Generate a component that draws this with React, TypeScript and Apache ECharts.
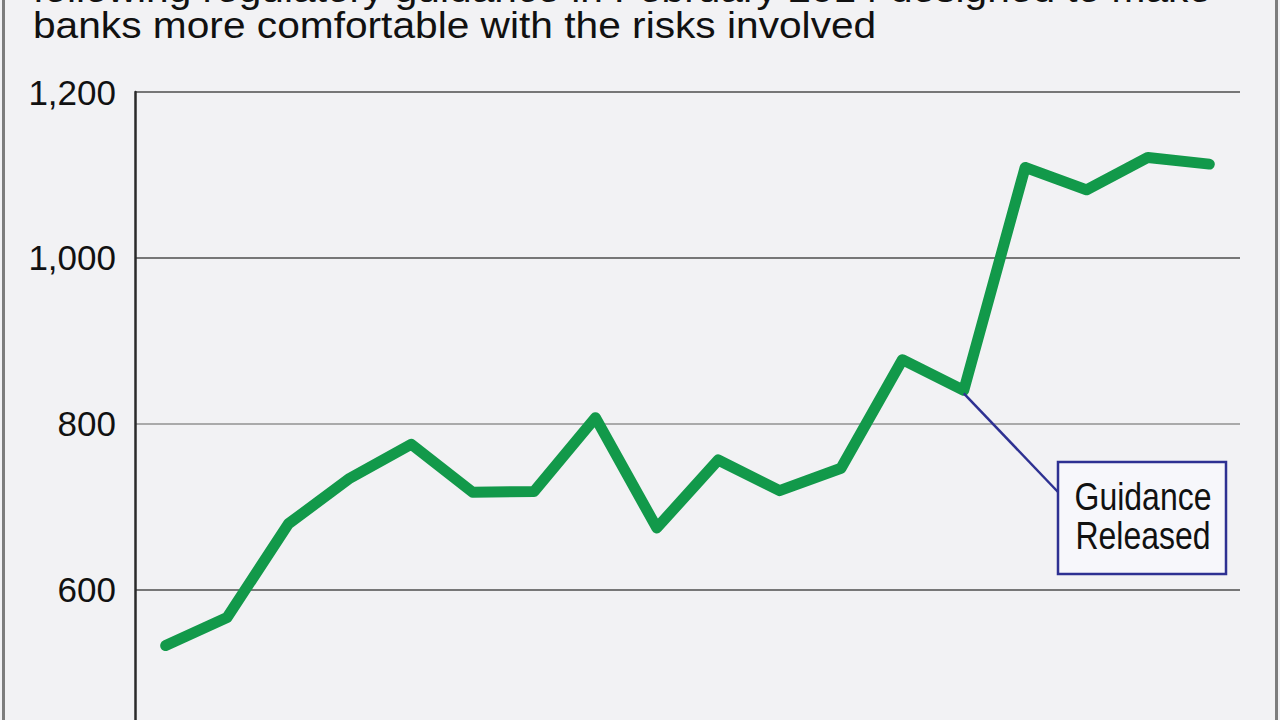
import React, { useEffect, useRef } from "react";
import * as echarts from "echarts";

const titleLines = [
  "following regulatory guidance in February 2014 designed to make",
  "banks more comfortable with the risks involved",
];
const categories = [
  "Q4 2010", "Q1 2011", "Q2 2011", "Q3 2011", "Q4 2011",
  "Q1 2012", "Q2 2012", "Q3 2012", "Q4 2012",
  "Q1 2013", "Q2 2013", "Q3 2013", "Q4 2013",
  "Q1 2014", "Q2 2014", "Q3 2014", "Q4 2014", "Q1 2015",
];
const values = [532, 566, 679, 734, 775, 717, 718, 807, 674, 756, 719, 746, 877, 840, 1109, 1082, 1121, 1113];
const annotationIndex = 13;
const annotationLines = ["Guidance", "Released"];
const yMin = 400;
const yMax = 1200;
const yStep = 200;

export default function App() {
  const ref = useRef<HTMLDivElement>(null);
  useEffect(() => {
    document.body.style.margin = "0";
    document.body.style.overflow = "hidden";
    const chart = echarts.init(ref.current!, null, { renderer: "svg" });
    chart.setOption({
      animation: false,
      backgroundColor: "#f2f2f4",
      grid: { left: 135, top: 92, width: 1105, height: 663 },
      xAxis: {
        type: "category",
        data: categories,
        boundaryGap: true,
        axisLine: { show: false },
        axisTick: { show: false },
        axisLabel: { show: false },
        splitLine: { show: false },
      },
      yAxis: {
        type: "value",
        min: yMin,
        max: yMax,
        interval: yStep,
        axisLine: { show: true, lineStyle: { color: "#2a2a2a", width: 2.5 } },
        axisTick: { show: false },
        axisLabel: {
          margin: 19,
          fontFamily: "Liberation Sans, Arial, sans-serif",
          fontSize: 35,
          color: "#111",
          padding: [6, 0, 0, 0],
          formatter: (v: number) => (v === yMin ? "" : v.toLocaleString("en-US")),
        },
        splitLine: {
          show: true,
          lineStyle: { color: ["#777", "#777", "#aaa", "#777", "#777"], width: 2 },
        },
      },
      series: [
        {
          type: "line",
          data: values,
          showSymbol: false,
          lineStyle: { color: "#12994a", width: 11, cap: "round", join: "round" },
          z: 3,
        },
      ],
    });

    const p = chart.convertToPixel({ xAxisIndex: 0, yAxisIndex: 0 }, [annotationIndex, values[annotationIndex]]) as number[];
    const boxX = 1058, boxY = 462, boxW = 168, boxH = 112;
    const font = "39px 'Liberation Sans', Arial, sans-serif";
    const titleFont = "36px 'Liberation Sans', Arial, sans-serif";
    chart.setOption({
      graphic: [
        { type: "rect", left: 2, top: 0, shape: { width: 3, height: 760 }, style: { fill: "#7d7d7d" } },
        { type: "rect", left: 1275, top: 0, shape: { width: 3, height: 760 }, style: { fill: "#7d7d7d" } },
        {
          type: "text", x: 33, y: 7, scaleX: 1.13,
          style: { text: titleLines[0], font: titleFont, fill: "#111", verticalAlign: "bottom", textAlign: "left" },
        },
        {
          type: "text", x: 33, y: 43, scaleX: 1.13,
          style: { text: titleLines[1], font: titleFont, fill: "#111", verticalAlign: "bottom", textAlign: "left" },
        },
        {
          type: "line", z: 10,
          shape: { x1: p[0], y1: p[1] + 3, x2: boxX, y2: boxY + 30 },
          style: { stroke: "#2e3192", lineWidth: 2.5 },
        },
        {
          type: "rect", z: 10,
          shape: { x: boxX, y: boxY, width: boxW, height: boxH },
          style: { fill: "#f7f7fb", stroke: "#2e3192", lineWidth: 2.5 },
        },
        {
          type: "text", z: 11, x: boxX + boxW / 2 + 1, y: boxY + 35, scaleX: 0.82,
          style: { text: annotationLines[0], font, fill: "#111", textAlign: "center", verticalAlign: "middle" },
        },
        {
          type: "text", z: 11, x: boxX + boxW / 2 + 1, y: boxY + 74, scaleX: 0.82,
          style: { text: annotationLines[1], font, fill: "#111", textAlign: "center", verticalAlign: "middle" },
        },
      ],
    });
    return () => chart.dispose();
  }, []);
  return (
    <div style={{ width: 1280, height: 720, overflow: "hidden" }}>
      <div ref={ref} style={{ width: 1280, height: 760 }} />
    </div>
  );
}
